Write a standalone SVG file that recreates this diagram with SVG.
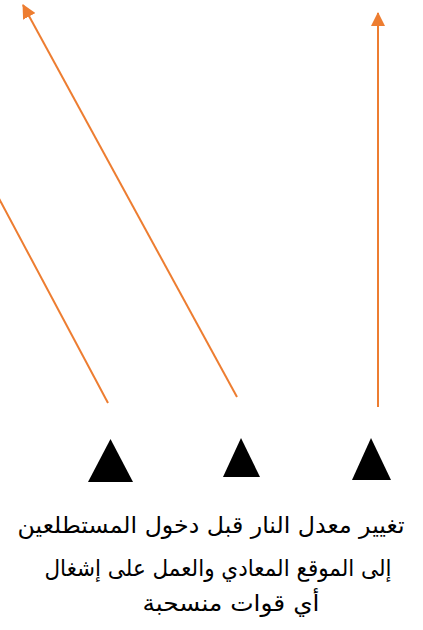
<svg xmlns="http://www.w3.org/2000/svg" width="423" height="630" viewBox="0 0 423 630">
<style>
.c{stroke:#ED7D31;stroke-width:2;fill:none;marker-end:url(#ah)}
.t{fill:#000}
.lbl{font-family:"DejaVu Sans",sans-serif;font-size:23px;fill:#000;text-anchor:middle}
</style>
<defs>
<marker id="ah" viewBox="0 0 14 14" refX="13" refY="7" markerWidth="14" markerHeight="14" markerUnits="userSpaceOnUse" orient="auto">
<path d="M0,0 L14,7 L0,14 z" fill="#ED7D31"/>
</marker>
</defs>
<rect width="423" height="630" fill="#fff"/>
<g id="connectors">
<path class="c" d="M108,403 L-30,144"/>
<path class="c" d="M237,397 L23,5"/>
<path class="c" d="M378,407 L378,13"/>
</g>
<g id="node1"><polygon class="t" points="110.5,439 88,482 133,482"/></g>
<g id="node2"><polygon class="t" points="241,438 223,477 260,477"/></g>
<g id="node3"><polygon class="t" points="371,438 352,480 391,480"/></g>
<g id="label">
<text class="lbl" direction="rtl" x="211" y="533" textLength="387" lengthAdjust="spacingAndGlyphs">تغيير معدل النار قبل دخول المستطلعين</text>
<text class="lbl" direction="rtl" x="218" y="576" textLength="347" lengthAdjust="spacingAndGlyphs">إلى الموقع المعادي والعمل على إشغال</text>
<text class="lbl" direction="rtl" x="231" y="611" textLength="177" lengthAdjust="spacingAndGlyphs">أي قوات منسحبة</text>
</g>
</svg>
